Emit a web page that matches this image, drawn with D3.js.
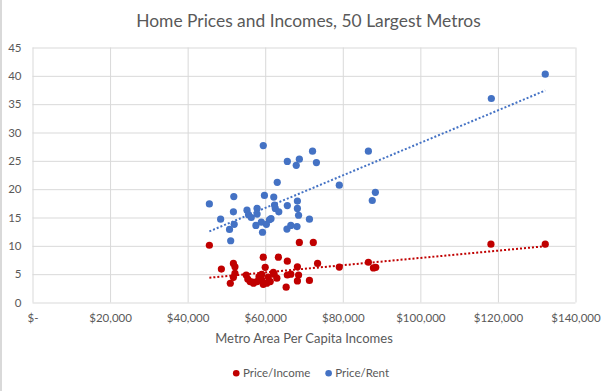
<!DOCTYPE html>
<html>
<head>
<meta charset="utf-8">
<script src="https://cdn.jsdelivr.net/npm/d3@7"></script>
<style>
    body { margin: 0; background: #fff; }
    svg { display: block; font-family: Lato, 'Open Sans', sans-serif; }
</style>
</head>
<body>
<div class="chart-container"></div>
<script>
    'use strict';

    // Price/Income series (red): per capita income and ratio
    const incomeIncomes = [
        45600, 48700, 51800, 52200, 52200, 51800, 51000, 55100, 55500, 56100,
        57000, 57900, 58400, 59100, 59500, 60000, 59500, 60400, 61300, 62300,
        63000, 63400, 65700, 65400, 65700, 66600, 68300, 68600, 68300, 71400,
        73500, 68800, 72400, 79100, 86600, 87900, 88500, 118200, 132200,
        62100, 60800, 59100, 56800
    ];
    const priceIncome = [
        10.1, 5.9, 6.9, 6.3, 5.15, 4.45, 3.4, 4.85, 4.15, 3.7,
        3.4, 3.7, 4.55, 4.95, 8.0, 6.2, 3.2, 3.4, 3.7, 5.0,
        4.3, 8.0, 7.3, 2.7, 4.85, 5.0, 6.3, 4.85, 3.8, 3.9,
        6.9, 10.6, 10.6, 6.26, 7.1, 6.1, 6.2, 10.3, 10.3,
        5.3, 4.5, 4.0, 3.6
    ];

    // Price/Rent series (blue)
    const rentIncomes = [
        45600, 48500, 50800, 51100, 51900, 51800, 52000, 55300, 55700, 56400,
        57900, 57900, 57600, 59000, 59800, 60300, 61100, 61500, 59300, 59500,
        62200, 62400, 62600, 63500, 63100, 65700, 65600, 66600, 68200, 68300,
        68300, 68600, 71400, 65700, 68800, 68000, 72200, 73200, 79100, 86600,
        88400, 87600, 118300, 132200
    ];
    const priceRent = [
        17.4, 14.7, 12.9, 10.9, 18.7, 16.0, 13.8, 16.3, 15.5, 15.0,
        16.6, 15.6, 13.6, 14.2, 18.9, 13.8, 14.6, 14.8, 12.4, 27.7,
        18.6, 17.2, 16.6, 16.0, 21.2, 17.1, 12.95, 13.6, 13.4, 17.9,
        16.6, 15.4, 14.7, 24.9, 25.3, 24.2, 26.7, 24.7, 20.7, 26.7,
        19.45, 18.0, 36.0, 40.3
    ];

    const xTicks = [0, 20000, 40000, 60000, 80000, 100000, 120000, 140000];
    const yTicks = [0, 5, 10, 15, 20, 25, 30, 35, 40, 45];

    const chartTitle = 'Home Prices and Incomes, 50 Largest Metros',
        xAxisTitle = 'Metro Area Per Capita Incomes',
        seriesNames = ['Price/Income', 'Price/Rent'];

    let width = 615,
        height = 391,
        margin = {
            top: 47.5,
            right: 39.5,
            bottom: 88.5,
            left: 32.5
        },
        chartWidth = width - margin.left - margin.right,
        chartHeight = height - margin.top - margin.bottom,

        // Styles
        gridColor = '#D9D9D9',
        textColor = '#595959',
        redColor = '#C00000',
        blueColor = '#4472C4',
        markerRadius = 3.6,

        svg,
        chart,
        xScale,
        yScale;

    /**
     * Builds the svg and the inner group following the margin convention
     */
    function buildSVG() {
        svg = d3.select('.chart-container')
          .append('svg')
            .attr('width', width)
            .attr('height', height);

        svg.append('rect')
            .attr('width', width)
            .attr('height', height)
            .attr('fill', '#fff');

        // thin chart frame visible on the left edge
        svg.append('rect')
            .attr('width', 2)
            .attr('height', height)
            .attr('fill', gridColor);

        chart = svg.append('g')
            .attr('transform', `translate(${margin.left},${margin.top})`);
    }

    function buildScales() {
        xScale = d3.scaleLinear()
            .domain([0, 140000])
            .range([0, chartWidth]);

        yScale = d3.scaleLinear()
            .domain([0, 45])
            .range([chartHeight, 0]);
    }

    /**
     * Axes double as the gridlines
     */
    function drawAxes() {
        let moneyFormat = d3.format(',');

        let xAxis = d3.axisBottom(xScale)
            .tickValues(xTicks)
            .tickSize(-chartHeight)
            .tickPadding(11)
            .tickFormat(d => d === 0 ? '$-' : '$' + moneyFormat(d));

        let yAxis = d3.axisLeft(yScale)
            .tickValues(yTicks)
            .tickSize(-chartWidth)
            .tickPadding(11);

        let xGroup = chart.append('g')
            .attr('class', 'x axis')
            .attr('transform', `translate(0,${chartHeight})`)
            .call(xAxis);

        let yGroup = chart.append('g')
            .attr('class', 'y axis')
            .call(yAxis);

        [xGroup, yGroup].forEach(g => {
            g.select('.domain').remove();
            g.selectAll('line')
                .attr('stroke', gridColor)
                .attr('stroke-width', 1);
            g.selectAll('text')
                .attr('fill', textColor)
                .style('font-size', '11.5px')
                .style('font-family', 'Lato, sans-serif');
        });
    }

    /**
     * Least squares fit, drawn from min to max x like the spreadsheet trendline
     */
    function linearFit(xs, ys) {
        let mx = d3.mean(xs),
            my = d3.mean(ys),
            num = d3.sum(xs, (x, i) => (x - mx) * (ys[i] - my)),
            den = d3.sum(xs, x => (x - mx) * (x - mx)),
            slope = num / den;

        return x => my + slope * (x - mx);
    }

    function drawSeries(xs, ys, color, name) {
        let points = xs.map((x, i) => ({x: x, y: ys[i]}));

        chart.append('g')
            .attr('class', 'series ' + name)
          .selectAll('circle')
            .data(points)
          .join('circle')
            .attr('cx', d => xScale(d.x))
            .attr('cy', d => yScale(d.y))
            .attr('r', markerRadius)
            .attr('fill', color);
    }

    function drawTrendline(xs, ys, color) {
        let fit = linearFit(xs, ys),
            ends = d3.extent(xs);

        chart.append('line')
            .attr('class', 'trendline')
            .attr('x1', xScale(ends[0]))
            .attr('y1', yScale(fit(ends[0])))
            .attr('x2', xScale(ends[1]))
            .attr('y2', yScale(fit(ends[1])))
            .attr('stroke', color)
            .attr('stroke-width', 2)
            .attr('stroke-dasharray', '2,2');
    }

    function drawTitles() {
        svg.append('text')
            .attr('x', 308.5)
            .attr('y', 26.5)
            .attr('text-anchor', 'middle')
            .attr('fill', textColor)
            .style('font-size', '17.4px')
            .text(chartTitle);

        svg.append('text')
            .attr('x', margin.left + chartWidth / 2)
            .attr('y', 342.5)
            .attr('text-anchor', 'middle')
            .attr('fill', textColor)
            .style('font-size', '13px')
            .text(xAxisTitle);
    }

    /**
     * Legend items laid out in a row, then centred under the plot
     */
    function drawLegend() {
        let legend = svg.append('g').attr('class', 'legend'),
            colors = [redColor, blueColor],
            cursor = 0;

        seriesNames.forEach((name, i) => {
            legend.append('circle')
                .attr('cx', cursor + 3.3)
                .attr('cy', 373.3)
                .attr('r', 3.3)
                .attr('fill', colors[i]);

            let label = legend.append('text')
                .attr('x', cursor + 10)
                .attr('y', 376.7)
                .attr('fill', textColor)
                .style('font-size', '11.5px')
                .text(name);

            cursor += 10 + label.node().getComputedTextLength() + 15;
        });

        let legendWidth = cursor - 15;
        legend.attr('transform', `translate(${311 - legendWidth / 2},0)`);
    }

    buildSVG();
    buildScales();
    drawAxes();
    drawSeries(incomeIncomes, priceIncome, redColor, 'price-income');
    drawSeries(rentIncomes, priceRent, blueColor, 'price-rent');
    drawTrendline(incomeIncomes, priceIncome, redColor);
    drawTrendline(rentIncomes, priceRent, blueColor);
    drawTitles();
    drawLegend();
</script>
</body>
</html>
